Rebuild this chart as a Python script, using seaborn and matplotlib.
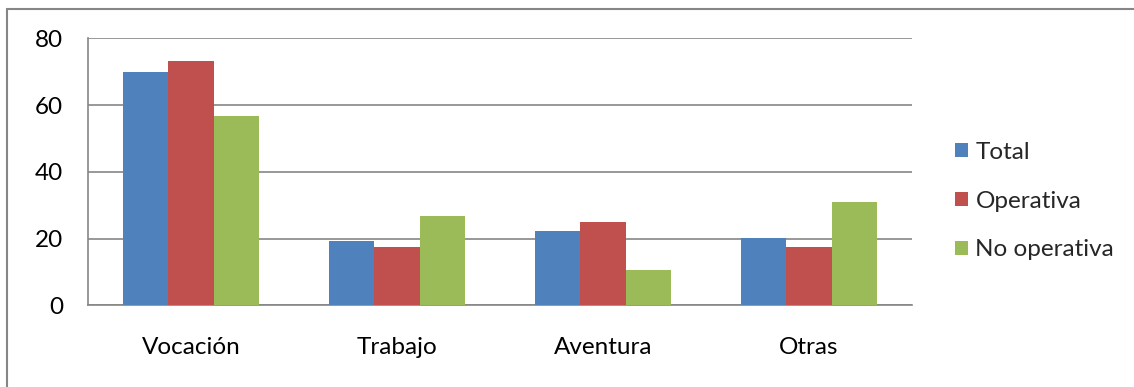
import matplotlib
matplotlib.use("Agg")
import matplotlib.pyplot as plt
import matplotlib.patches as mpatches
from matplotlib.lines import Line2D
import seaborn as sns
import pandas as pd

categories = ["Vocación", "Trabajo", "Aventura", "Otras"]
series = ["Total", "Operativa", "No operativa"]
total = [70.0, 19.3, 22.3, 20.1]
operativa = [73.1, 17.5, 24.9, 17.5]
no_operativa = [56.7, 26.8, 10.6, 30.9]
y_ticks = [0, 20, 40, 60, 80]
colors = ["#4F81BD", "#C0504D", "#9BBB59"]

df = pd.DataFrame({
    "categoria": categories * 3,
    "serie": [s for s in series for _ in categories],
    "valor": total + operativa + no_operativa,
})

sns.set_theme(style="white")
plt.rcParams["font.family"] = ["Lato", "DejaVu Sans"]

W, H = 1134, 387
FS = 17.5
fig = plt.figure(figsize=(W / 100, H / 100), dpi=100)
ax = fig.add_axes([88 / W, (H - 305.3) / H, (912 - 88) / W, (305.3 - 38.3) / H])

grid_c = "#868686"
sns.barplot(data=df, x="categoria", y="valor", hue="serie", order=categories,
            hue_order=series, palette=colors, width=0.663, gap=0,
            saturation=1, edgecolor="none", linewidth=0, legend=False, ax=ax, zorder=3)

ax.set_xlim(-0.5, 3.5)
ax.set_ylim(0, 80)
ax.set_yticks(y_ticks)
ax.set_yticklabels([str(v) for v in y_ticks])
ax.yaxis.grid(True, color=grid_c, linewidth=1.2, zorder=0)
ax.set_axisbelow(True)

# category boundary ticks on the x axis, labels centred between them
ax.set_xticks([-0.5, 0.5, 1.5, 2.5, 3.5])
ax.set_xticklabels([])
ax.set_xticks(range(len(categories)), minor=True)
ax.set_xticklabels(categories, minor=True)
ax.tick_params(axis="x", which="major", length=8, width=1.2, color=grid_c, direction="out")
ax.tick_params(axis="x", which="minor", length=0, pad=23, labelsize=FS, labelcolor="black")
ax.tick_params(axis="y", length=8, width=1.2, color=grid_c, direction="out",
               pad=10, labelsize=FS, labelcolor="black")
ax.set_xlabel("")
ax.set_ylabel("")

for side in ["top", "right"]:
    ax.spines[side].set_visible(False)
for side in ["left", "bottom"]:
    ax.spines[side].set_color(grid_c)
    ax.spines[side].set_linewidth(1.2)

handles = [mpatches.Patch(facecolor=c, edgecolor="none", label=s) for c, s in zip(colors, series)]
fig.legend(handles=handles, loc="center left", bbox_to_anchor=(945 / W, (H - 201) / H),
           frameon=False, fontsize=FS, handlelength=0.55, handleheight=0.55,
           handletextpad=0.3, labelspacing=1.15, borderaxespad=0)

# chart frame edges
fig.add_artist(Line2D([6.5 / W, 6.5 / W], [0, (H - 8.5) / H], color=grid_c, linewidth=1.5))
fig.add_artist(Line2D([6.5 / W, 1], [(H - 8.5) / H, (H - 8.5) / H], color=grid_c, linewidth=1.5))

fig.savefig("out.png", dpi=100)
